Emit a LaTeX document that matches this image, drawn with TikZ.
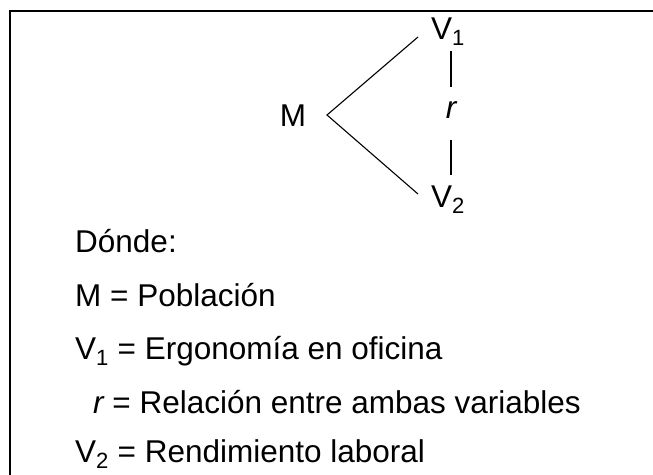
\documentclass[tikz,border=0pt]{standalone}
\usepackage{fontspec}
\setmainfont{Liberation Sans}
\begin{document}
\begin{tikzpicture}[x=1pt,y=-1pt,
  lbl/.style={inner sep=0pt,font=\fontsize{31.5}{38}\selectfont},
  legend/.style={inner sep=0pt,anchor=base west,font=\fontsize{31.5}{38}\selectfont},
  conn/.style={line width=1.1pt,black}]
\useasboundingbox (0,0) rectangle (653,474);
\draw[line width=2pt] (10,490) -- (10,11) -- (670,11);
% diagram
\node[lbl,anchor=base] (M) at (293,126) {M};
\node[lbl,anchor=base] (V1) at (448,39) {V\textsubscript{1}};
\node[lbl,anchor=base] (V2) at (448,207) {V\textsubscript{2}};
\node[lbl,anchor=base] (r) at (451,118) {\itshape r};
\coordinate (apex) at (327,115);
\coordinate (v1end) at (418,37);
\coordinate (v2end) at (418,194);
\coordinate (rt1) at (451,51);
\coordinate (rt2) at (451,87);
\coordinate (rb1) at (451,140);
\coordinate (rb2) at (451,175);
\draw[conn] (v1end) -- (apex) -- (v2end);
\draw[conn] (rt1) -- (rt2);
\draw[conn] (rb1) -- (rb2);
% legend
\node[legend] (d) at (75,252) {Dónde:};
\node[legend] (l1) at (75,306) {M = Población};
\node[legend] (l2) at (75,359) {V\textsubscript{1} = Ergonomía en oficina};
\node[legend] (l3) at (93,413) {\itshape r\upshape{} = Relación entre ambas variables};
\node[legend] (l4) at (75,462) {V\textsubscript{2} = Rendimiento laboral};
\end{tikzpicture}
\end{document}
